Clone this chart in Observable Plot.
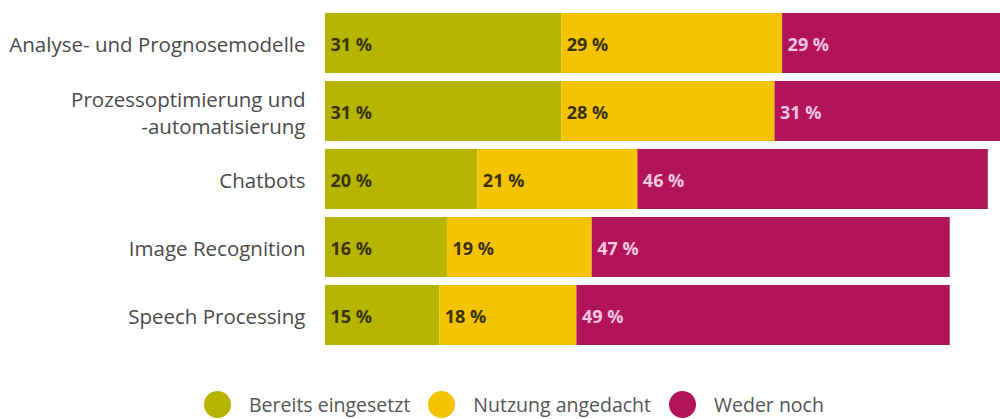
<!DOCTYPE html>
<html>
<head>
<meta charset="utf-8">
<script src="https://cdn.jsdelivr.net/npm/d3@7"></script>
<script src="https://cdn.jsdelivr.net/npm/@observablehq/plot@0.6"></script>
<style>
  html, body { margin: 0; padding: 0; background: #fff; overflow: hidden; }
  #chart { width: 1000px; height: 419px; position: relative; font-family: "Open Sans", sans-serif; }
  .legend { display: flex; align-items: center; margin-left: 204px; margin-top: 6px; font-size: 19.5px; line-height: 24px; color: #555; }
  .legend .item { display: flex; align-items: center; margin-right: 18px; }
  .legend .sw { width: 27px; height: 27px; border-radius: 50%; margin-right: 18px; }
</style>
</head>
<body>
<div id="chart"></div>
<script>
const categories = ["Analyse- und Prognosemodelle", "Prozessoptimierung und\n-automatisierung", "Chatbots", "Image Recognition", "Speech Processing"];
const seriesNames = ["Bereits eingesetzt", "Nutzung angedacht", "Weder noch"];
const bereits = [31, 31, 20, 16, 15];
const angedacht = [29, 28, 21, 19, 18];
const weder = [29, 31, 46, 47, 49];
const colors = ["#b5b400", "#f4c400", "#b2145a"];

const seriesValues = [bereits, angedacht, weder];
const data = [];
seriesNames.forEach((s, si) => {
  categories.forEach((c, ci) => {
    data.push({cat: c, series: s, value: seriesValues[si][ci]});
  });
});

const plot = Plot.plot({
  width: 1000,
  height: 385,
  marginLeft: 325,
  marginRight: 0,
  marginTop: 9,
  marginBottom: 36,
  style: {fontFamily: "Open Sans, sans-serif", background: "#fff"},
  x: {domain: [0, 88.6], axis: null},
  y: {domain: categories, paddingInner: 0.118, paddingOuter: 0.059, label: null, tickSize: 0, tickPadding: 20},
  color: {domain: seriesNames, range: colors},
  marks: [
    Plot.barX(data, Plot.stackX({x: "value", y: "cat", z: "series", fill: "series", order: seriesNames, clip: true})),
    Plot.text(data, Plot.stackX1({
      x: "value", y: "cat", z: "series", order: seriesNames,
      text: d => d.value + " %",
      textAnchor: "start", dx: 5, dy: 2,
      fontSize: 18, fontWeight: "bold",
      fill: d => d.series === "Weder noch" ? "#f7c6e0" : "#3a3200"
    })),
    Plot.axisY({tickSize: 0, tickPadding: 20, fontSize: 20.5, color: "#4a4a4a", lineHeight: 1.35, label: null})
  ]
});
document.getElementById("chart").appendChild(plot);

const legend = document.createElement("div");
legend.className = "legend";
seriesNames.forEach((s, i) => {
  const item = document.createElement("div");
  item.className = "item";
  const sw = document.createElement("span");
  sw.className = "sw";
  sw.style.background = colors[i];
  const t = document.createElement("span");
  t.textContent = s;
  item.appendChild(sw);
  item.appendChild(t);
  legend.appendChild(item);
});
document.getElementById("chart").appendChild(legend);
</script>
</body>
</html>
